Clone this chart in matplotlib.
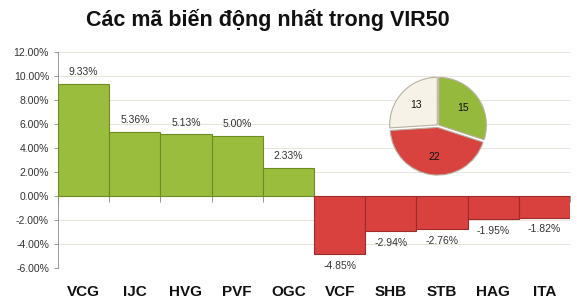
import numpy as np
import matplotlib.pyplot as plt
from matplotlib.ticker import FuncFormatter

plt.rcParams['font.family'] = ['Liberation Sans', 'DejaVu Sans']

# data
tickers = ['VCG', 'IJC', 'HVG', 'PVF', 'OGC', 'VCF', 'SHB', 'STB', 'HAG', 'ITA']
changes = [9.33, 5.36, 5.13, 5.00, 2.33, -4.85, -2.94, -2.76, -1.95, -1.82]
pie_counts = [15, 22, 13]
pie_colors = ['#94B93C', '#D8433F', '#F6F2E8']

fig = plt.figure(figsize=(5.77, 3.07), dpi=100)
ax = fig.add_axes([58 / 577, 1 - 268 / 307, 512 / 577, 216 / 307])

x = np.arange(len(tickers))
for xi, v in zip(x, changes):
    if v >= 0:
        fc, ec = '#9BBD3E', '#6F8C24'
    else:
        fc, ec = '#D9413F', '#9C2B2A'
    ax.bar(xi, v, width=1.0, color=fc, edgecolor=ec, linewidth=0.8, zorder=3)
    if v >= 0:
        ax.text(xi, v + 0.55, f'{v:.2f}%', ha='center', va='bottom', fontsize=7.5, color='#333333')
    else:
        ax.text(xi, v - 0.55, f'{v:.2f}%', ha='center', va='top', fontsize=7.5, color='#333333')

ax.set_xlim(-0.5, len(tickers) - 0.5)
ax.set_ylim(-6, 12)
ax.set_yticks(np.arange(-6, 12.1, 2))
ax.yaxis.set_major_formatter(FuncFormatter(lambda v, p: f'{v:.2f}%'))
ax.tick_params(axis='y', labelsize=7.5, colors='#333333', length=3, width=0.6)
ax.tick_params(axis='y', color='#888888')
ax.grid(axis='y', color='#E8E4DA', linewidth=0.7, zorder=0)

# x axis at zero with ticks between categories
ax.spines['bottom'].set_position(('data', 0))
ax.spines['bottom'].set_color('#888888')
ax.spines['bottom'].set_linewidth(0.6)
ax.set_xticks(np.arange(-0.5, len(tickers), 1.0))
ax.set_xticklabels([])
ax.tick_params(axis='x', length=4, width=0.6, color='#888888', direction='out')
ax.spines['left'].set_color('#888888')
ax.spines['left'].set_linewidth(0.6)
ax.spines['top'].set_visible(False)
ax.spines['right'].set_visible(False)

for xi, name in zip(x, tickers):
    ax.text(xi, -0.11, name, transform=ax.get_xaxis_transform(), ha='center', va='center',
            fontsize=11, fontweight='bold', color='#111111')

fig.text(268 / 577, 1 - 20 / 307, 'Các mã biến động nhất trong VIR50', ha='center', va='center',
         fontsize=15.5, fontweight='bold', color='#111111')

# pie
pax = fig.add_axes([388 / 577, 1 - 177 / 307, 100 / 577, 100 / 307])
wedges, texts = pax.pie(pie_counts, colors=pie_colors, startangle=90, counterclock=False,
                        labels=[str(c) for c in pie_counts], labeldistance=0.62,
                        explode=[0.02, 0.04, 0.02],
                        wedgeprops=dict(edgecolor='#B8B0A0', linewidth=0.8))
for t in texts:
    t.set_fontsize(7.5)
    t.set_ha('center')
    t.set_va('center')
    t.set_color('#111111')
pax.set_xlim(-1.05, 1.05)
pax.set_ylim(-1.08, 1.02)
pax.set_aspect('equal')

fig.savefig('out.png', dpi=100)
